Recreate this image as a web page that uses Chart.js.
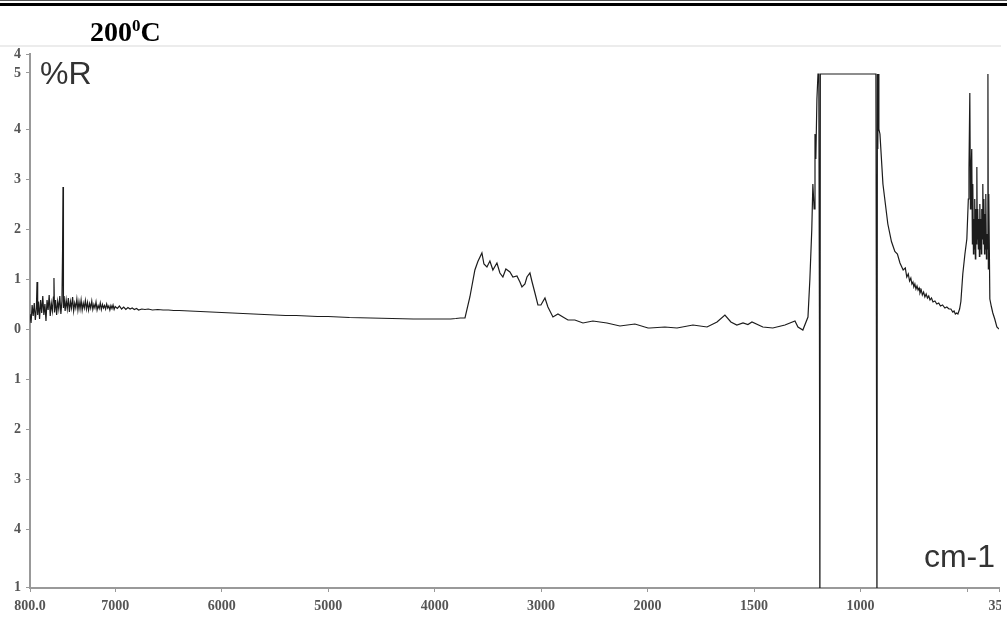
<!DOCTYPE html>
<html>
<head>
<meta charset="utf-8">
<script src="https://cdn.jsdelivr.net/npm/chart.js@4"></script>
<style>
  html, body { margin: 0; padding: 0; background: #fff; overflow: hidden; }
  #page { position: relative; width: 1007px; height: 619px; }
  .rule1 { position: absolute; left: 0; top: 0; width: 1007px; height: 1px; background: #555; }
  .rule2 { position: absolute; left: 0; top: 3px; width: 1007px; height: 3px; background: #000; }
  #title { position: absolute; left: 90px; top: 18px; font: bold 28px "Liberation Serif", serif; line-height: 28px; color: #000; }
  #title sup { font-size: 17px; vertical-align: 0; position: relative; top: -10px; }
  #ylab { position: absolute; left: 40px; top: 58px; font: 32px "Liberation Sans", Arial, sans-serif; line-height: 30px; color: #333; }
  #xlab { position: absolute; right: 12px; top: 541px; font: 32px "Liberation Sans", Arial, sans-serif; line-height: 30px; color: #333; }
  canvas { position: absolute; left: 0; top: 0; }
</style>
</head>
<body>
<div id="page">
  <div class="rule1"></div>
  <div class="rule2"></div>
  <canvas id="irChart" width="1001" height="619"></canvas>
  <div id="title">200<sup>0</sup>C</div>
  <div id="ylab">%R</div>
  <div id="xlab">cm-1</div>
</div>
<script>
// wavenumber (cm-1), descending
var wavenumbers = [
  7800, 7790, 7780, 7770, 7760, 7750, 7740, 7734, 7728, 7720, 7710, 7700, 7690, 7680, 7670, 7660,
  7650, 7640, 7630, 7620, 7610, 7600, 7590, 7580, 7575, 7570, 7560, 7550, 7540, 7530, 7520, 7510,
  7500, 7494, 7490, 7486, 7480, 7470, 7460, 7450, 7440, 7430, 7420, 7410, 7400, 7390, 7380, 7370,
  7360, 7350, 7340, 7330, 7320, 7310, 7300, 7290, 7280, 7270, 7260, 7250, 7240, 7230, 7220, 7210,
  7200, 7190, 7180, 7170, 7160, 7150, 7140, 7130, 7120, 7110, 7100, 7090, 7080, 7070, 7060, 7050,
  7040, 7030, 7020, 7010, 7000, 6980, 6960, 6940, 6920, 6900, 6880, 6860, 6840, 6820, 6800, 6780,
  6750, 6720, 6690, 6650, 6600, 6550, 6500, 6450, 6400, 6300, 6200, 6100, 6000, 5900, 5800, 5700,
  5600, 5500, 5400, 5300, 5200, 5100, 5000, 4800, 4600, 4400, 4200, 4000, 3850, 3800, 3760, 3715,
  3669, 3622, 3594, 3556, 3537, 3509, 3481, 3453, 3415, 3387, 3359, 3331, 3293, 3265, 3227, 3199,
  3180, 3152, 3133, 3105, 3086, 3058, 3030, 3002, 2964, 2936, 2889, 2842, 2795, 2748, 2683, 2607,
  2514, 2382, 2260, 2119, 1998, 1989, 1919, 1862, 1787, 1721, 1674, 1637, 1609, 1581, 1552, 1529,
  1510, 1459, 1412, 1355, 1308, 1294, 1271, 1247, 1238, 1229, 1224, 1218, 1214, 1210, 1205, 1200,
  1196, 1193, 1191, 1189, 1100, 1000, 928, 923, 921, 919, 917, 914, 909, 895, 872, 855,
  839, 827, 815, 800, 790, 783, 776, 770, 764, 759, 754, 750, 745, 740, 735, 730,
  725, 721, 715, 710, 704, 698, 692, 686, 680, 674, 667, 660, 651, 642, 633, 625,
  615, 604, 595, 585, 576, 567, 561, 555, 549, 543, 535, 529, 520, 510, 501, 494,
  491, 487, 484, 482, 478, 475, 473, 470, 468, 466, 464, 461, 459, 456, 454, 452,
  450, 447, 445, 442, 440, 437, 435, 433, 431, 428, 426, 423, 421, 418, 416, 414,
  412, 409, 407, 404, 402, 400, 398, 393, 386, 379, 370, 360, 350
];
// reflectance (%R)
var reflectance = [
  0.30, 0.12, 0.48, 0.26, 0.52, 0.18, 0.42, 0.94, 0.28, 0.55, 0.20, 0.58, 0.32, 0.66, 0.28, 0.50,
  0.16, 0.58, 0.38, 0.68, 0.26, 0.52, 0.36, 0.64, 1.02, 0.33, 0.58, 0.28, 0.55, 0.40, 0.66, 0.30,
  0.56, 1.60, 2.84, 0.42, 0.66, 0.36, 0.58, 0.40, 0.62, 0.34, 0.55, 0.42, 0.64, 0.36, 0.52, 0.42,
  0.60, 0.38, 0.55, 0.40, 0.58, 0.38, 0.52, 0.42, 0.57, 0.40, 0.53, 0.38, 0.51, 0.42, 0.56, 0.39,
  0.49, 0.42, 0.54, 0.38, 0.47, 0.41, 0.52, 0.39, 0.49, 0.42, 0.47, 0.40, 0.50, 0.42, 0.46, 0.38,
  0.47, 0.41, 0.48, 0.39, 0.45, 0.41, 0.46, 0.40, 0.44, 0.39, 0.43, 0.40, 0.42, 0.39, 0.41, 0.38,
  0.40, 0.39, 0.40, 0.38, 0.39, 0.38, 0.38, 0.37, 0.37, 0.36, 0.35, 0.34, 0.33, 0.32, 0.31, 0.30,
  0.29, 0.28, 0.27, 0.27, 0.26, 0.25, 0.25, 0.23, 0.22, 0.21, 0.20, 0.20, 0.20, 0.21, 0.22, 0.22,
  0.64, 1.18, 1.35, 1.52, 1.30, 1.24, 1.36, 1.18, 1.32, 1.12, 1.04, 1.20, 1.14, 1.04, 1.06, 0.94,
  0.84, 0.90, 1.04, 1.12, 0.95, 0.72, 0.48, 0.48, 0.62, 0.44, 0.24, 0.30, 0.24, 0.18, 0.18, 0.12,
  0.16, 0.12, 0.06, 0.10, 0.02, 0.02, 0.04, 0.02, 0.08, 0.04, 0.14, 0.28, 0.14, 0.08, 0.12, 0.09,
  0.14, 0.04, 0.02, 0.08, 0.16, 0.04, -0.02, 0.24, 1.00, 2.00, 2.90, 2.40, 3.90, 3.40, 4.60, 5.10,
  5.10, -0.10, -6.00, 5.10, 5.10, 5.10, 5.10, -6.00, 5.10, 3.60, 5.10, 4.00, 3.90, 2.90, 2.10, 1.75,
  1.55, 1.50, 1.32, 1.18, 1.22, 1.04, 1.10, 0.96, 1.02, 0.90, 0.94, 0.84, 0.90, 0.80, 0.86, 0.78,
  0.82, 0.72, 0.78, 0.68, 0.74, 0.64, 0.70, 0.62, 0.66, 0.58, 0.62, 0.54, 0.56, 0.50, 0.52, 0.46,
  0.48, 0.42, 0.44, 0.40, 0.40, 0.34, 0.36, 0.30, 0.32, 0.30, 0.40, 0.55, 1.10, 1.50, 1.80, 2.60,
  3.20, 4.72, 2.40, 3.00, 3.60, 1.70, 2.90, 1.50, 2.20, 1.60, 2.60, 1.40, 2.40, 1.70, 3.24, 1.80,
  2.40, 1.60, 2.20, 1.45, 2.50, 1.60, 2.20, 1.50, 2.40, 1.80, 2.90, 1.70, 2.60, 1.50, 2.30, 1.60,
  2.70, 1.40, 1.90, 1.60, 5.10, 1.20, 2.70, 0.60, 0.45, 0.32, 0.20, 0.04, 0.00
];

var tickWavenumbers = [7800, 7000, 6000, 5000, 4000, 3000, 2000, 1500, 1000, 500, 350];
var tickLabels = ['800.0', '7000', '6000', '5000', '4000', '3000', '2000', '1500', '1000', '', '350'];

var yTickValues = [-5.16, -4, -3, -2, -1, 0, 1, 2, 3, 4, 5.12, 5.5];
var yTickLabels = ['1', '4', '3', '2', '1', '0', '1', '2', '3', '4', '5', '4'];

// spectrometer x axis: scale doubles below 2000 cm-1
function toAxis(w) {
  return w >= 2000 ? (7800 - w) : 5800 + (2000 - w) * 2;
}

var points = wavenumbers.map(function (w, i) {
  return { x: toAxis(w), y: reflectance[i] };
});

var topLine = {
  id: 'topLine',
  beforeDraw: function (chart) {
    var ctx = chart.ctx;
    ctx.save();
    ctx.strokeStyle = '#ececec';
    ctx.lineWidth = 2;
    ctx.beginPath();
    ctx.moveTo(0, 46);
    ctx.lineTo(chart.width, 46);
    ctx.stroke();
    ctx.restore();
  }
};

var tickFont = { family: '"Liberation Serif", serif', size: 14, weight: 'bold' };

new Chart(document.getElementById('irChart'), {
  type: 'line',
  data: {
    datasets: [{
      data: points,
      borderColor: '#1c1c1c',
      borderWidth: 1.2,
      pointRadius: 0,
      tension: 0,
      fill: false
    }]
  },
  options: {
    responsive: false,
    animation: false,
    devicePixelRatio: 1,
    layout: { padding: { top: 54, right: 2, left: 0, bottom: 0 } },
    plugins: {
      legend: { display: false },
      title: { display: false },
      tooltip: { enabled: false }
    },
    scales: {
      x: {
        type: 'linear',
        min: 0,
        max: toAxis(350),
        afterBuildTicks: function (scale) {
          scale.ticks = tickWavenumbers.map(function (w) { return { value: toAxis(w) }; });
        },
        afterFit: function (scale) {
          scale.height = 31;
          scale.paddingRight = 0;
        },
        ticks: {
          autoSkip: false,
          maxRotation: 0,
          padding: 6,
          color: '#555',
          font: tickFont,
          callback: function (val, idx) { return tickLabels[idx]; }
        },
        grid: { drawOnChartArea: false, tickLength: 4, color: '#999' },
        border: { color: '#999', width: 2 }
      },
      y: {
        type: 'linear',
        min: -5.18,
        max: 5.5,
        afterBuildTicks: function (scale) {
          scale.ticks = yTickValues.map(function (v) { return { value: v }; });
        },
        afterFit: function (scale) {
          scale.width = 30;
        },
        ticks: {
          autoSkip: false,
          padding: 5,
          color: '#555',
          font: tickFont,
          callback: function (val, idx) { return yTickLabels[idx]; }
        },
        grid: { drawOnChartArea: false, tickLength: 4, color: '#999' },
        border: { color: '#999', width: 2 }
      }
    }
  },
  plugins: [topLine]
});
</script>
</body>
</html>
